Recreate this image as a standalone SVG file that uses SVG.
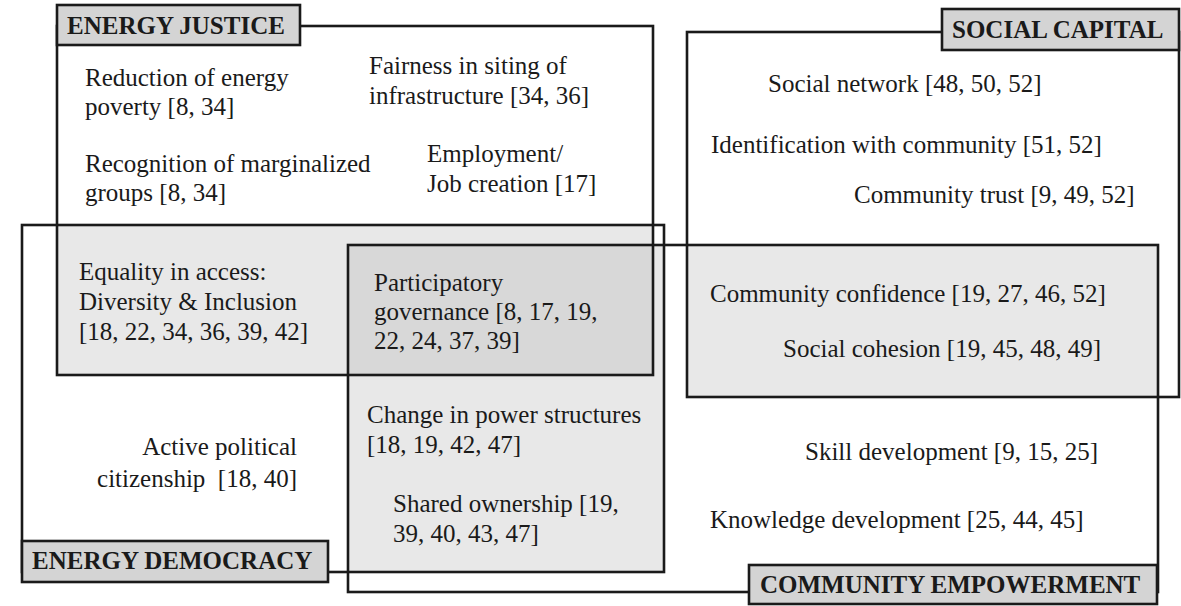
<svg xmlns="http://www.w3.org/2000/svg" width="1181" height="606" viewBox="0 0 1181 606">
<style>
.bg{fill:#ffffff}
.lt{fill:#e8e8e8;stroke:none}
.dk{fill:#d8d8d8;stroke:none}
.frame{fill:none;stroke:#1a1a1a;stroke-width:2.6}
.lbl{fill:#d4d4d4;stroke:#1a1a1a;stroke-width:2.6}
.t{font-family:"Liberation Serif","Times New Roman",serif;font-size:25px;fill:#1a1a1a}
.h{font-family:"Liberation Serif","Times New Roman",serif;font-size:25px;font-weight:bold;fill:#1a1a1a}
</style>
<rect class="bg" x="0" y="0" width="1181" height="606"/>
<g id="overlaps">
<rect class="lt" x="57" y="225" width="596" height="150"/>
<rect class="lt" x="348" y="245" width="316" height="327"/>
<rect class="dk" x="348" y="245" width="305" height="130"/>
<rect class="lt" x="687" y="245" width="472" height="152"/>
</g>
<g id="frames">
<rect id="energy-justice-frame" class="frame" x="57" y="26" width="596" height="349"/>
<rect id="energy-democracy-frame" class="frame" x="22" y="225" width="642" height="347"/>
<rect id="community-empowerment-frame" class="frame" x="348" y="245" width="810" height="347"/>
<rect id="social-capital-frame" class="frame" x="687" y="32" width="492" height="365"/>
</g>
<g id="energy-justice">
<rect class="lbl" x="57" y="5" width="243" height="40"/>
<text class="h" x="67" y="34">ENERGY JUSTICE</text>
</g>
<g id="social-capital">
<rect class="lbl" x="942" y="9" width="237" height="41"/>
<text class="h" x="952" y="38">SOCIAL CAPITAL</text>
</g>
<g id="energy-democracy">
<rect class="lbl" x="22" y="541" width="306" height="41"/>
<text class="h" x="32" y="569">ENERGY DEMOCRACY</text>
</g>
<g id="community-empowerment">
<rect class="lbl" x="749" y="565" width="408" height="39"/>
<text class="h" x="760" y="593">COMMUNITY EMPOWERMENT</text>
</g>
<g id="reduction-energy-poverty">
<text class="t" x="85" y="86">Reduction of energy</text>
<text class="t" x="85" y="115">poverty [8, 34]</text>
</g>
<g id="fairness-siting">
<text class="t" x="369" y="74">Fairness in siting of</text>
<text class="t" x="369" y="104">infrastructure [34, 36]</text>
</g>
<g id="recognition-marginalized">
<text class="t" x="85" y="172">Recognition of marginalized</text>
<text class="t" x="85" y="201">groups [8, 34]</text>
</g>
<g id="employment">
<text class="t" x="427" y="162">Employment/</text>
<text class="t" x="427" y="192">Job creation [17]</text>
</g>
<g id="social-network">
<text class="t" x="768" y="92">Social network [48, 50, 52]</text>
</g>
<g id="identification-community">
<text class="t" x="711" y="153">Identification with community [51, 52]</text>
</g>
<g id="community-trust">
<text class="t" x="854" y="203">Community trust [9, 49, 52]</text>
</g>
<g id="equality-access">
<text class="t" x="79" y="280">Equality in access:</text>
<text class="t" x="79" y="310">Diversity &amp; Inclusion</text>
<text class="t" x="79" y="340">[18, 22, 34, 36, 39, 42]</text>
</g>
<g id="participatory-governance">
<text class="t" x="374" y="291">Participatory</text>
<text class="t" x="374" y="320">governance [8, 17, 19,</text>
<text class="t" x="374" y="349">22, 24, 37, 39]</text>
</g>
<g id="community-confidence">
<text class="t" x="710" y="302">Community confidence [19, 27, 46, 52]</text>
</g>
<g id="social-cohesion">
<text class="t" x="783" y="357">Social cohesion [19, 45, 48, 49]</text>
</g>
<g id="active-citizenship">
<text class="t" x="297" y="455" text-anchor="end">Active political</text>
<text class="t" x="297" y="487" text-anchor="end" xml:space="preserve">citizenship  [18, 40]</text>
</g>
<g id="power-structures">
<text class="t" x="367" y="423">Change in power structures</text>
<text class="t" x="367" y="453">[18, 19, 42, 47]</text>
</g>
<g id="shared-ownership">
<text class="t" x="393" y="512">Shared ownership [19,</text>
<text class="t" x="393" y="542">39, 40, 43, 47]</text>
</g>
<g id="skill-development">
<text class="t" x="805" y="460">Skill development [9, 15, 25]</text>
</g>
<g id="knowledge-development">
<text class="t" x="710" y="528">Knowledge development [25, 44, 45]</text>
</g>
</svg>
